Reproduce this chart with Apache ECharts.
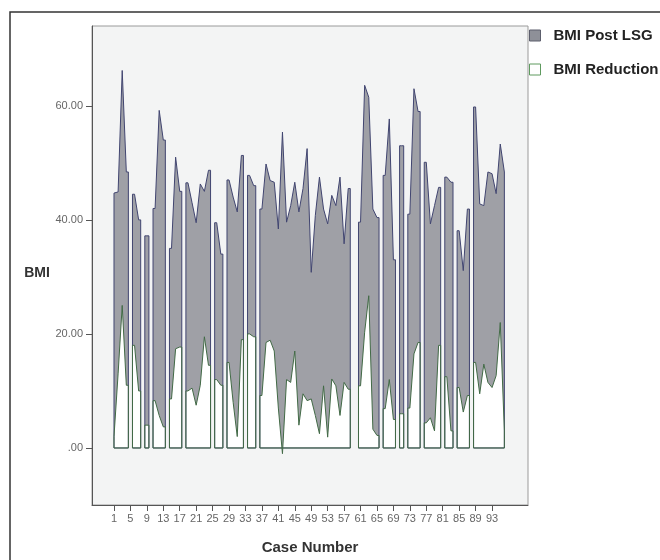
<!DOCTYPE html>
<html>
<head>
<meta charset="utf-8">
<script src="https://cdn.jsdelivr.net/npm/echarts@6/dist/echarts.min.js"></script>
<style>
  html, body { margin: 0; padding: 0; background: #fff; }
  #chart { width: 660px; height: 560px; }
</style>
</head>
<body>
<div id="chart"></div>
<script>
// values per case number 1..96, null = missing case (area is broken there)
var postLSG = [
  44.7, 44.9, 66.2, 48.4, null, 44.5, 40.0, null, 37.2, null,
  42.0, 59.2, 54.0, null, 35.0, 51.0, 45.0, null, 46.5, 43.0,
  39.5, 46.3, 45.0, 48.7, null, 39.5, 34.0, null, 47.0, 44.0,
  41.4, 51.3, null, 47.8, 46.0, null, 41.9, 49.8, 46.9, 46.6,
  38.4, 55.4, 39.6, 42.5, 46.6, 41.4, 45.5, 52.5, 30.8, 40.8,
  47.5, 41.9, 39.3, 44.3, 42.5, 47.5, 35.8, 45.5, null, null,
  39.6, 63.6, 61.5, 41.9, 40.4, null, 47.8, 57.7, 33.0, null,
  53.0, null, 41.0, 63.0, 59.0, null, 50.1, 39.3, 42.5, 45.7,
  null, 47.5, 46.6, null, 38.1, 31.1, 41.9, null, 59.8, 42.8,
  42.5, 48.4, 48.1, 44.6, 53.3, 48.4
];
var reduction = [
  2.0, 13.0, 25.0, 11.0, null, 18.0, 10.0, null, 4.0, null,
  8.3, 5.7, 3.7, null, 8.6, 17.4, 17.7, null, 10.0, 10.5,
  7.5, 11.0, 19.5, 14.5, null, 12.0, 11.0, null, 15.0, 8.0,
  2.0, 19.0, null, 20.0, 19.5, null, 9.2, 18.5, 18.9, 17.0,
  7.0, -1.0, 12.0, 11.5, 17.0, 4.0, 9.5, 8.3, 8.6, 5.7,
  2.5, 10.9, 1.9, 12.1, 10.9, 5.7, 11.5, 10.3, null, null,
  10.9, 20.3, 26.7, 3.3, 2.2, null, 6.9, 12.0, 5.0, null,
  6.0, null, 7.0, 16.5, 18.5, null, 4.4, 5.3, 3.0, 18.0,
  null, 12.5, 3.0, null, 10.6, 6.3, 9.2, null, 15.0, 9.5,
  14.7, 11.5, 10.6, 12.7, 22.0, 3.0
];
var xTicks = [1, 5, 9, 13, 17, 21, 25, 29, 33, 37, 41, 45, 49, 53, 57, 61, 65, 69, 73, 77, 81, 85, 89, 93];
var yTicks = [0, 20, 40, 60];

// each run of valid cases becomes its own closed area, running half a case
// towards a missing neighbour (like the SPSS output)
var buildArea = function(values) {
  var pts = [];
  var n = values.length;
  var i = 0;
  while (i < n) {
    if (values[i] == null) { i++; continue; }
    var a = i;
    while (i + 1 < n && values[i + 1] != null) i++;
    var b = i;
    var x0 = a === 0 ? 1 : a + 0.5;
    var x1 = b === n - 1 ? n : b + 1.5;
    pts.push([x0, 0], [x0, values[a]]);
    for (var k = a; k <= b; k++) {
      pts.push([k + 1, values[k]]);
    }
    pts.push([x1, values[b]], [x1, 0], [x0, 0]);
    pts.push([x1, null]);
    i++;
  }
  return pts;
};

var chart = echarts.init(document.getElementById('chart'));

var option = {
  animation: false,
  backgroundColor: '#ffffff',
  textStyle: { fontFamily: 'Liberation Sans, Arial, sans-serif' },
  grid: {
    left: 92, top: 26, width: 436, height: 479,
    show: true, backgroundColor: '#f3f4f4', borderColor: '#9a9a9a', borderWidth: 1
  },
  legend: {
    orient: 'vertical',
    left: 524, top: 23,
    itemWidth: 11, itemHeight: 11, itemGap: 19,
    textStyle: { fontSize: 15, fontWeight: 'bold', color: '#222', padding: [0, 0, 0, 8] },
    data: [
      { name: 'BMI Post LSG', icon: 'rect', itemStyle: { color: '#8e9098', borderColor: '#5c5e6c', borderWidth: 1 } },
      { name: 'BMI Reduction', icon: 'rect', itemStyle: { color: '#ffffff', borderColor: '#5f9a5f', borderWidth: 1 } }
    ]
  },
  xAxis: {
    type: 'value',
    min: -4.35, max: 101.75,
    name: 'Case Number',
    nameLocation: 'middle',
    nameGap: 35,
    nameTextStyle: { fontSize: 15, fontWeight: 'bold', color: '#333' },
    axisLine: { show: true, onZero: false, lineStyle: { color: '#555', width: 1 } },
    axisTick: { show: true, customValues: xTicks, length: 6, lineStyle: { color: '#555' } },
    axisLabel: { customValues: xTicks, fontSize: 11, color: '#666', margin: 8 },
    splitLine: { show: false }
  },
  yAxis: {
    type: 'value',
    min: -10, max: 74,
    axisLine: { show: true, onZero: false, lineStyle: { color: '#555', width: 1 } },
    axisTick: { show: true, customValues: yTicks, length: 6, lineStyle: { color: '#555' } },
    axisLabel: {
      customValues: yTicks, fontSize: 11, color: '#666', margin: 9,
      formatter: function(v) { return v === 0 ? '.00' : v.toFixed(2); }
    },
    splitLine: { show: false }
  },
  graphic: [
    {
      type: 'rect',
      shape: { x: 10, y: 12, width: 700, height: 600 },
      style: { fill: null, stroke: '#333', lineWidth: 1.5 },
      silent: true
    },
    {
      type: 'text',
      x: 37, y: 273,
      style: {
        text: 'BMI', fontSize: 14, fontWeight: 'bold', fill: '#333',
        fontFamily: 'Liberation Sans, Arial, sans-serif',
        align: 'center', verticalAlign: 'middle'
      }
    }
  ],
  series: [
    {
      name: 'BMI Post LSG',
      type: 'line',
      data: buildArea(postLSG),
      showSymbol: false,
      connectNulls: false,
      color: '#8e9098',
      lineStyle: { color: '#414570', width: 1 },
      areaStyle: { color: '#9fa0a6', opacity: 1 }
    },
    {
      name: 'BMI Reduction',
      type: 'line',
      data: buildArea(reduction),
      showSymbol: false,
      connectNulls: false,
      color: '#ffffff',
      lineStyle: { color: '#426a46', width: 1 },
      areaStyle: { color: '#ffffff', opacity: 1 }
    }
  ]
};

chart.setOption(option);
</script>
</body>
</html>
